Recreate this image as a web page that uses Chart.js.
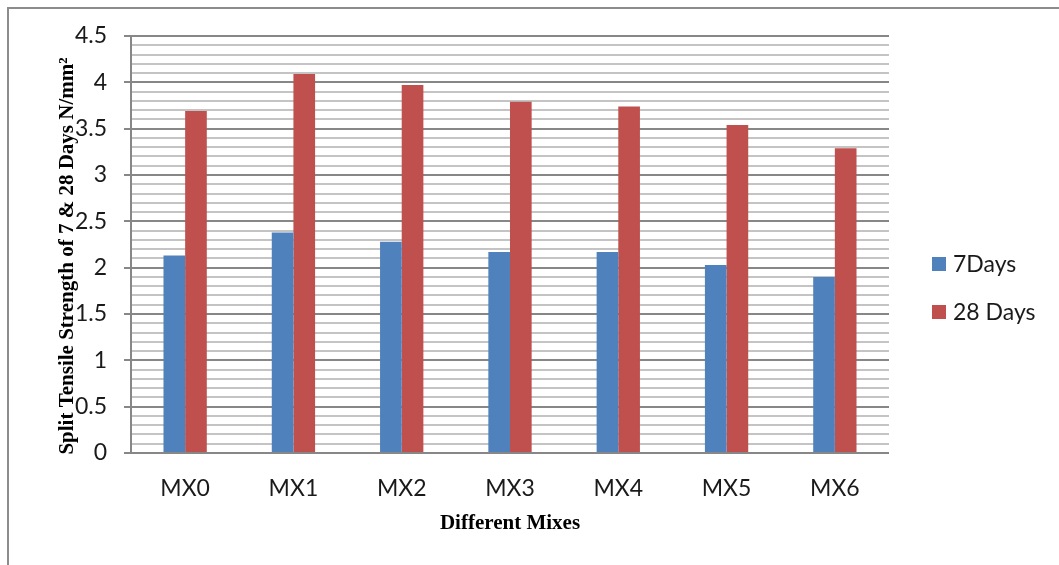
<!DOCTYPE html>
<html>
<head>
<meta charset="utf-8">
<script src="https://cdn.jsdelivr.net/npm/chart.js@4.4.1/dist/chart.umd.min.js"></script>
<style>
  html, body { margin: 0; padding: 0; background: #ffffff; overflow: hidden; }
  #wrap { width: 1059px; height: 565px; position: relative; }
</style>
</head>
<body>
<div id="wrap"><canvas id="chart" width="1059" height="565"></canvas></div>
<script>
// Split tensile strength (N/mm²) per mix
const mixes = ['MX0', 'MX1', 'MX2', 'MX3', 'MX4', 'MX5', 'MX6'];
const days7 = [2.13, 2.38, 2.28, 2.17, 2.17, 2.03, 1.90];
const days28 = [3.69, 4.09, 3.97, 3.79, 3.74, 3.54, 3.29];
const seriesNames = ['7Days', '28 Days'];
const seriesColors = ['#4F81BD', '#C0504D'];
const yTitle = 'Split Tensile Strength of 7 & 28 Days N/mm²';
const xTitle = 'Different Mixes';
const yMax = 4.5;
const yMinorStep = 0.1;

const labelFont = '"Lato", "Open Sans", sans-serif';
const titleFont = '"Liberation Serif", "DejaVu Serif", serif';

const isMajor = v => Math.abs(v * 2 - Math.round(v * 2)) < 1e-6;

// Frame, axis titles and legend drawn on top of the chart
const decorations = {
  id: 'decorations',
  afterDraw(chart) {
    const ctx = chart.ctx;
    const area = chart.chartArea;
    ctx.save();

    // outer frame
    ctx.strokeStyle = '#8c8c8c';
    ctx.lineWidth = 2;
    ctx.strokeRect(8, 8, 1080, 600);

    // y axis title (rotated)
    ctx.fillStyle = '#000000';
    ctx.font = 'bold 21px ' + titleFont;
    ctx.textAlign = 'center';
    ctx.textBaseline = 'middle';
    ctx.save();
    ctx.translate(68, 256);
    ctx.rotate(-Math.PI / 2);
    ctx.fillText(yTitle, 0, 0);
    ctx.restore();

    // x axis title
    ctx.font = 'bold 21px ' + titleFont;
    ctx.fillText(xTitle, (area.left + area.right) / 2, 524);

    // legend
    ctx.font = '23px ' + labelFont;
    ctx.textAlign = 'left';
    chart.data.datasets.forEach((ds, i) => {
      const cy = 264 + i * 48;
      ctx.fillStyle = ds.backgroundColor;
      ctx.fillRect(932, cy - 7, 14, 14);
      ctx.fillStyle = '#1a1a1a';
      ctx.fillText(ds.label, 953, cy + 1);
    });

    ctx.restore();
  }
};

new Chart(document.getElementById('chart'), {
  type: 'bar',
  data: {
    labels: mixes,
    datasets: [
      { label: seriesNames[0], data: days7, backgroundColor: seriesColors[0] },
      { label: seriesNames[1], data: days28, backgroundColor: seriesColors[1] }
    ]
  },
  options: {
    responsive: false,
    animation: false,
    devicePixelRatio: 1,
    layout: { padding: { left: 0, top: 36, right: 170, bottom: 0 } },
    datasets: {
      bar: { categoryPercentage: 0.4, barPercentage: 1.0, borderWidth: 0 }
    },
    plugins: {
      legend: { display: false },
      tooltip: { enabled: false },
      title: { display: false }
    },
    scales: {
      x: {
        grid: { display: false, drawTicks: false },
        border: { display: false },
        ticks: {
          color: '#1a1a1a',
          font: { family: labelFont, size: 23 },
          padding: 22,
          maxRotation: 0
        },
        afterFit(scale) { scale.height = 565 - 453; }
      },
      y: {
        min: 0,
        max: yMax,
        grid: {
          color: ctx => isMajor(ctx.tick.value) ? '#878787' : '#c4c4c4',
          lineWidth: 2,
          tickLength: 7,
          tickColor: ctx => isMajor(ctx.tick.value) ? '#878787' : 'rgba(0,0,0,0)'
        },
        border: { display: true, color: '#878787', width: 2 },
        ticks: {
          stepSize: yMinorStep,
          autoSkip: false,
          color: '#1a1a1a',
          font: { family: labelFont, size: 23 },
          padding: 17,
          callback: v => isMajor(v) ? String(Math.round(v * 10) / 10) : ''
        },
        afterFit(scale) { scale.width = 131; }
      }
    }
  },
  plugins: [decorations]
});
</script>
</body>
</html>
